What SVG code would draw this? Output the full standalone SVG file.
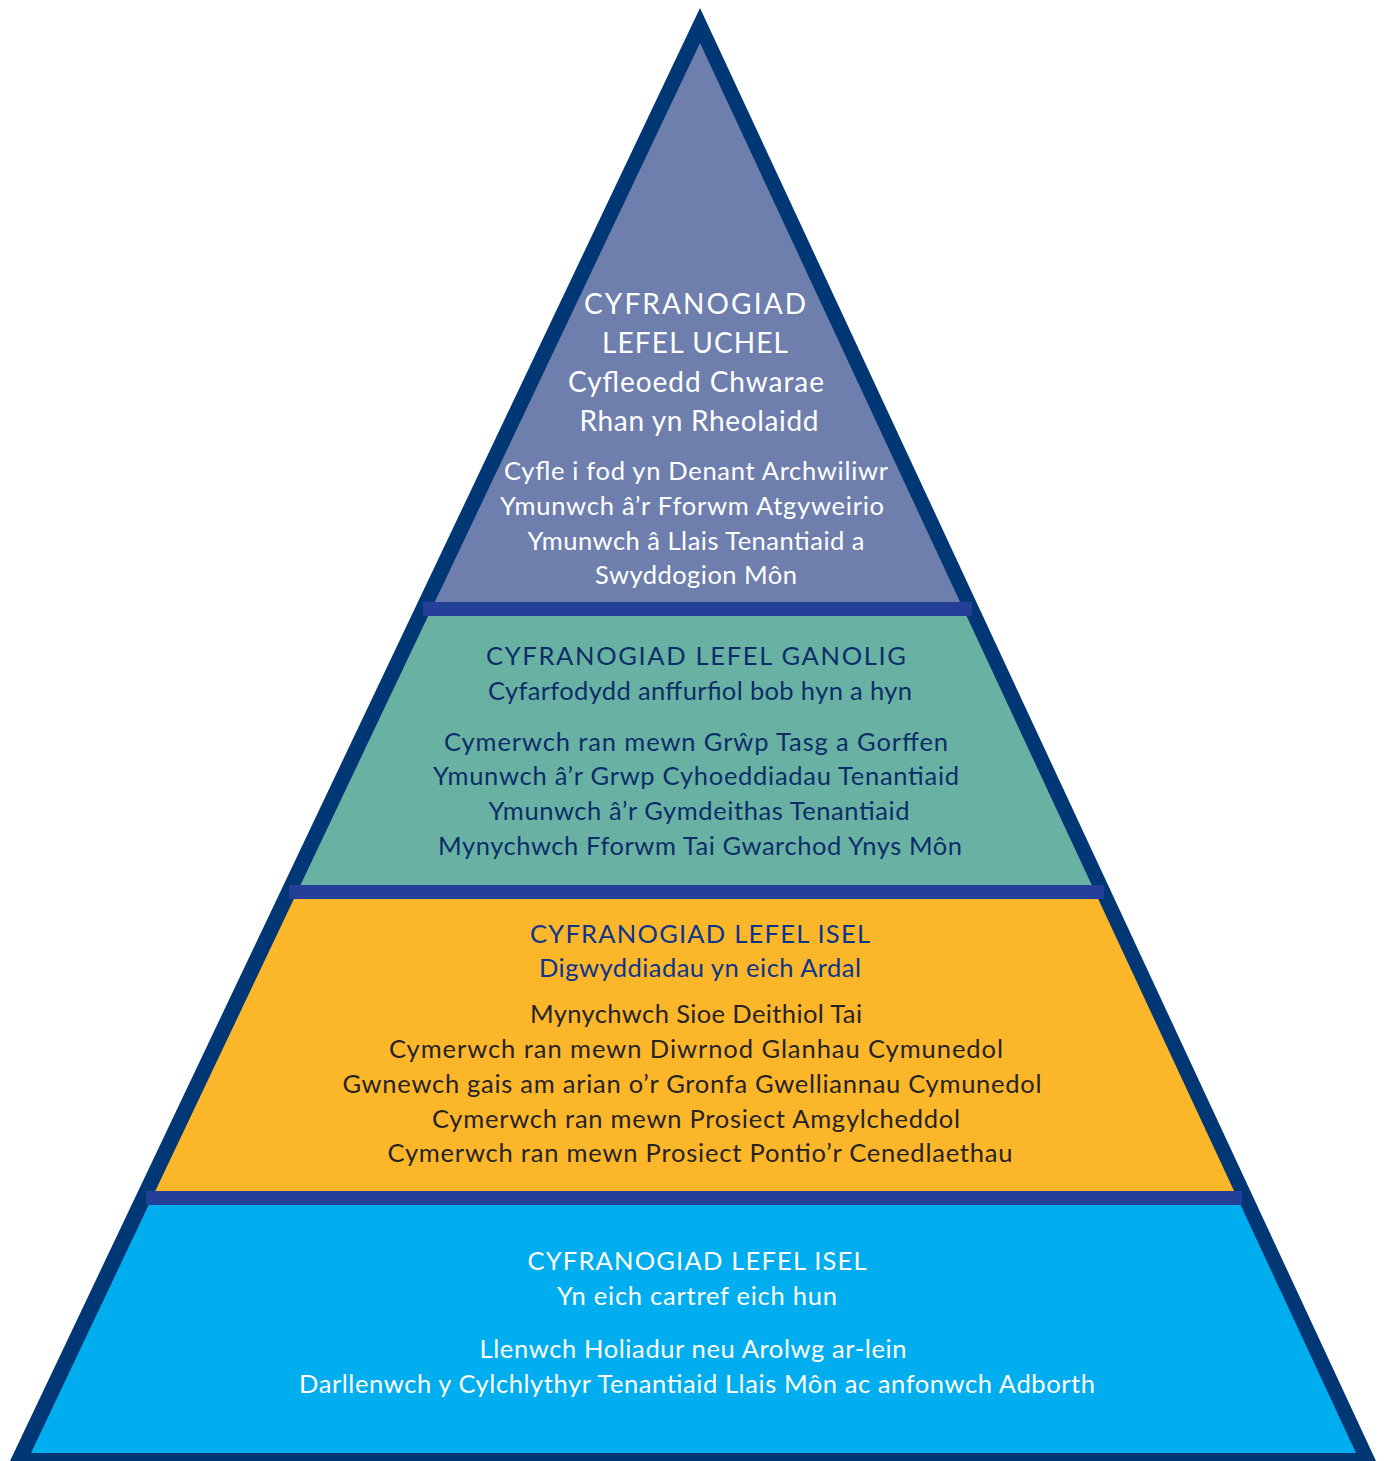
<svg xmlns="http://www.w3.org/2000/svg" width="1386" height="1461" viewBox="0 0 1386 1461">
<defs>
<style>
text{font-family:Lato,"Open Sans","DejaVu Sans",sans-serif;text-anchor:middle}
.w{fill:#ffffff}
.n{fill:#0c2d69}
.h{fill:#0b358a}
.d{fill:#262324}
.l{font-size:28px}
.m{font-size:25.5px}
.sep{fill:#243f98}
</style>
<clipPath id="inner"><polygon points="700,43 31,1453 1356,1453"/></clipPath>
</defs>
<rect width="1386" height="1461" fill="#ffffff"/>
<polygon id="border" points="700,8 10,1461 1376,1461" fill="#023776"/>
<g clip-path="url(#inner)">
<rect id="band-top-fill" x="0" y="0" width="1386" height="610" fill="#6e7fad"/>
<rect id="band-mid-fill" x="0" y="610" width="1386" height="282" fill="#69b2a3"/>
<rect id="band-low-fill" x="0" y="892" width="1386" height="306" fill="#fbb62a"/>
<rect id="band-base-fill" x="0" y="1198" width="1386" height="270" fill="#00aeef"/>
</g>
<g id="separators">
<rect class="sep" x="423" y="602" width="549" height="14"/>
<rect class="sep" x="289" y="885" width="815" height="14"/>
<rect class="sep" x="146" y="1191" width="1096" height="14"/>
</g>
<g id="level-high">
<text class="w l" x="695" y="314" textLength="222">CYFRANOGIAD</text>
<text class="w l" x="695" y="353" textLength="186">LEFEL UCHEL</text>
<text class="w l" x="696" y="392" textLength="256">Cyfleoedd Chwarae</text>
<text class="w l" x="699" y="431" textLength="239">Rhan yn Rheolaidd</text>
<text class="w m" x="696" y="480" textLength="384">Cyfle i fod yn Denant Archwiliwr</text>
<text class="w m" x="692" y="515" textLength="384">Ymunwch â’r Fforwm Atgyweirio</text>
<text class="w m" x="696" y="550" textLength="337">Ymunwch â Llais Tenantiaid a</text>
<text class="w m" x="696" y="584" textLength="202">Swyddogion Môn</text>
</g>
<g id="level-mid">
<text class="n m" x="696" y="665" textLength="420">CYFRANOGIAD LEFEL GANOLIG</text>
<text class="n m" x="700" y="700" textLength="424">Cyfarfodydd anffurfiol bob hyn a hyn</text>
<text class="n m" x="696" y="751" textLength="504">Cymerwch ran mewn Grŵp Tasg a Gorffen</text>
<text class="n m" x="696" y="785" textLength="526">Ymunwch â’r Grwp Cyhoeddiadau Tenantiaid</text>
<text class="n m" x="699" y="820" textLength="421">Ymunwch â’r Gymdeithas Tenantiaid</text>
<text class="n m" x="700" y="855" textLength="524">Mynychwch Fforwm Tai Gwarchod Ynys Môn</text>
</g>
<g id="level-low">
<text class="h m" x="700" y="943" textLength="340">CYFRANOGIAD LEFEL ISEL</text>
<text class="h m" x="700" y="977" textLength="322">Digwyddiadau yn eich Ardal</text>
<text class="d m" x="696" y="1023" textLength="332">Mynychwch Sioe Deithiol Tai</text>
<text class="d m" x="696" y="1058" textLength="614">Cymerwch ran mewn Diwrnod Glanhau Cymunedol</text>
<text class="d m" x="692" y="1093" textLength="699">Gwnewch gais am arian o’r Gronfa Gwelliannau Cymunedol</text>
<text class="d m" x="696" y="1128" textLength="528">Cymerwch ran mewn Prosiect Amgylcheddol</text>
<text class="d m" x="700" y="1162" textLength="625">Cymerwch ran mewn Prosiect Pontio’r Cenedlaethau</text>
</g>
<g id="level-base">
<text class="w m" x="697" y="1270" textLength="339">CYFRANOGIAD LEFEL ISEL</text>
<text class="w m" x="697" y="1305" textLength="280">Yn eich cartref eich hun</text>
<text class="w m" x="693" y="1358" textLength="427">Llenwch Holiadur neu Arolwg ar-lein</text>
<text class="w m" x="697" y="1393" textLength="796">Darllenwch y Cylchlythyr Tenantiaid Llais Môn ac anfonwch Adborth</text>
</g>
</svg>
